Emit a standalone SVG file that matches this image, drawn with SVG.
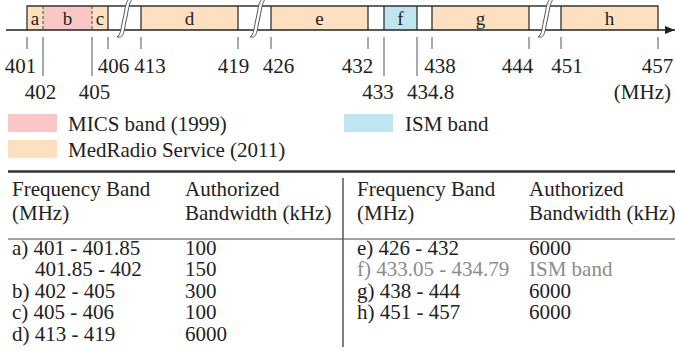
<svg xmlns="http://www.w3.org/2000/svg" width="675" height="351" viewBox="0 0 675 351">
<style>
text{font-family:"Liberation Serif","Times New Roman",serif;font-size:21px;fill:#222}
.lbl{font-size:19px;text-anchor:middle}
.num{text-anchor:middle}
.gray{fill:#8c8c8c}
.org{fill:#fde0bf}
.pink{fill:#f9c8c6}
.blue{fill:#bfe5f1}
.bd{stroke:#333;stroke-width:1.3;fill:none}
.dash{stroke:#444;stroke-width:1;stroke-dasharray:3,2;fill:none}
.tick{stroke:#555;stroke-width:1}
.brk{fill:#fff;stroke:#444;stroke-width:0.9}
</style>
<defs>
<marker id="arr" viewBox="0 0 10 8" refX="10" refY="4" markerWidth="10" markerHeight="8" markerUnits="userSpaceOnUse" orient="auto">
<path d="M0,0 L10,4 L0,8 Z" fill="#222"/>
</marker>
</defs>
<g id="bar">
<rect class="org" x="27" y="6" width="16" height="24"/>
<rect class="pink" x="43" y="6" width="49" height="24"/>
<rect class="org" x="92" y="6" width="16" height="24"/>
<rect class="org" x="141" y="6" width="97" height="24"/>
<rect class="org" x="271" y="6" width="97" height="24"/>
<rect class="blue" x="384" y="6" width="33" height="24"/>
<rect class="org" x="432" y="6" width="97" height="24"/>
<rect class="org" x="561" y="6" width="97" height="24"/>
<path class="bd" d="M27,30 V6 H658 V30 M108,6 V30 M141,6 V30 M238,6 V30 M271,6 V30 M368,6 V30 M384,6 V30 M417,6 V30 M432,6 V30 M529,6 V30 M561,6 V30"/>
<path class="dash" d="M43,6 V30 M92,6 V30"/>
<text class="lbl" x="35" y="25">a</text>
<text class="lbl" x="67.5" y="25">b</text>
<text class="lbl" x="100" y="25">c</text>
<text class="lbl" x="189.5" y="25">d</text>
<text class="lbl" x="319.5" y="25">e</text>
<text class="lbl" x="400.5" y="25">f</text>
<text class="lbl" x="480.5" y="25">g</text>
<text class="lbl" x="609.5" y="25">h</text>
</g>
<g id="connectors">
<line x1="6" y1="30" x2="675" y2="30" stroke="#222" stroke-width="1.3" marker-end="url(#arr)"/>
<path class="brk" d="M117,37 C121,35 121,27 123,19 S125,3 129,-1 L132.5,-1 C128.5,3 128.5,11 126.5,19 S124.5,35 120.5,37 Z"/>
<path class="brk" d="M250,37 C254,35 254,27 256,19 S258,3 262,-1 L265.5,-1 C261.5,3 261.5,11 259.5,19 S257.5,35 253.5,37 Z"/>
<path class="brk" d="M538,37 C542,35 542,27 544,19 S546,3 550,-1 L553.5,-1 C549.5,3 549.5,11 547.5,19 S545.5,35 541.5,37 Z"/>
<path class="tick" d="M27,37 V49 M108,37 V49 M141,37 V49 M238,37 V49 M271,37 V49 M368,37 V49 M432,37 V49 M529,37 V49 M561,37 V49 M658,37 V49"/>
<path class="tick" d="M43,37 V76 M92,37 V76 M384,37 V76 M417,37 V76"/>
</g>
<g id="axis-labels">
<text class="num" x="20.5" y="73">401</text>
<text class="num" x="113.5" y="73">406</text>
<text class="num" x="150" y="73">413</text>
<text class="num" x="233.5" y="73">419</text>
<text class="num" x="278.5" y="73">426</text>
<text class="num" x="357.5" y="73">432</text>
<text class="num" x="440" y="73">438</text>
<text class="num" x="517.5" y="73">444</text>
<text class="num" x="567" y="73">451</text>
<text class="num" x="657.5" y="73">457</text>
<text class="num" x="40.5" y="99">402</text>
<text class="num" x="94.5" y="99">405</text>
<text class="num" x="378" y="99">433</text>
<text class="num" x="430.5" y="99">434.8</text>
<text x="671" y="99" text-anchor="end">(MHz)</text>
</g>
<g id="legend">
<rect class="pink" x="8" y="114" width="49" height="18"/>
<text x="68" y="131">MICS band (1999)</text>
<rect class="org" x="8" y="140" width="49" height="18"/>
<text x="68" y="156.5">MedRadio Service (2011)</text>
<rect class="blue" x="344" y="114" width="49" height="18"/>
<text x="405" y="131">ISM band</text>
</g>
<g id="table">
<line x1="8" y1="171.5" x2="675" y2="171.5" stroke="#333" stroke-width="2.5"/>
<line x1="8" y1="239" x2="675" y2="239" stroke="#444" stroke-width="1"/>
<line x1="343" y1="178" x2="343" y2="347" stroke="#555" stroke-width="1.5"/>
<text x="12" y="196">Frequency Band</text>
<text x="12" y="220">(MHz)</text>
<text x="185" y="196">Authorized</text>
<text x="185" y="220">Bandwidth (kHz)</text>
<text x="357" y="196">Frequency Band</text>
<text x="357" y="220">(MHz)</text>
<text x="529" y="196">Authorized</text>
<text x="529" y="220">Bandwidth (kHz)</text>
<text x="12" y="255">a) 401 - 401.85</text>
<text x="185" y="255">100</text>
<text x="35" y="276">401.85 - 402</text>
<text x="185" y="276">150</text>
<text x="12" y="297.5">b) 402 - 405</text>
<text x="185" y="297.5">300</text>
<text x="12" y="319">c) 405 - 406</text>
<text x="185" y="319">100</text>
<text x="12" y="340.5">d) 413 - 419</text>
<text x="185" y="340.5">6000</text>
<text x="357" y="255">e) 426 - 432</text>
<text x="529" y="255">6000</text>
<text class="gray" x="357" y="276">f) 433.05 - 434.79</text>
<text class="gray" x="529" y="276">ISM band</text>
<text x="357" y="297.5">g) 438 - 444</text>
<text x="529" y="297.5">6000</text>
<text x="357" y="319">h) 451 - 457</text>
<text x="529" y="319">6000</text>
</g>
</svg>
